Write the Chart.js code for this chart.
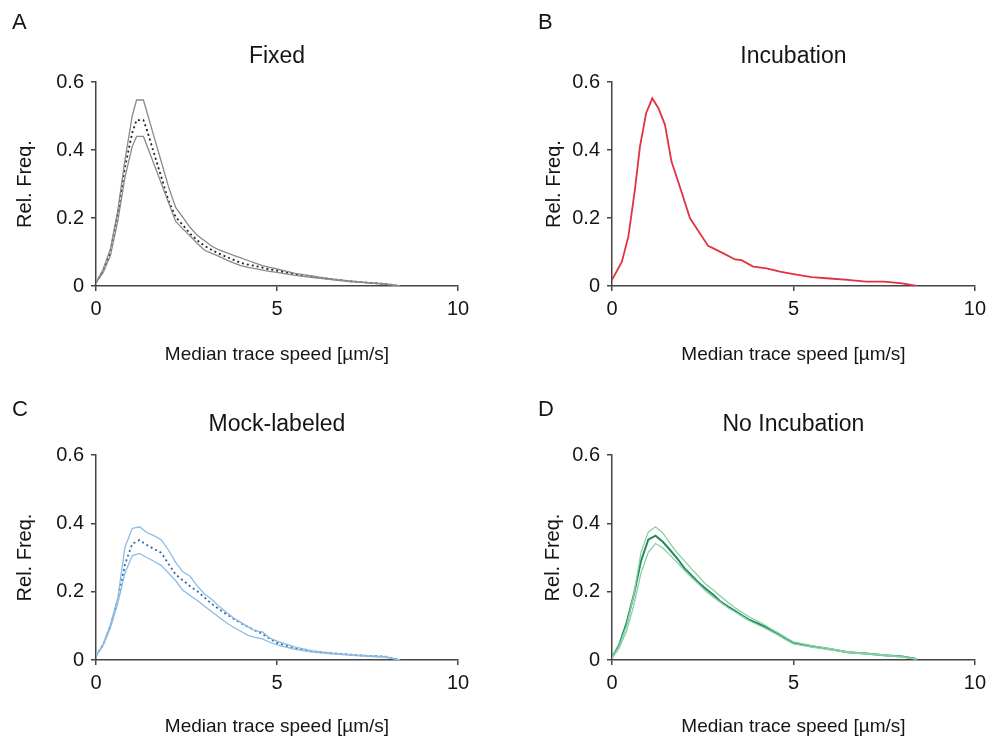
<!DOCTYPE html>
<html>
<head>
<meta charset="utf-8">
<script src="https://cdn.jsdelivr.net/npm/chart.js"></script>
<style>
  body { margin: 0; background: #fff; }
  canvas { position: absolute; }
</style>
</head>
<body>
<canvas id="panelA" width="496" height="371" style="left:0;top:0"></canvas>
<canvas id="panelB" width="496" height="371" style="left:496px;top:0"></canvas>
<canvas id="panelC" width="496" height="371" style="left:0;top:371px"></canvas>
<canvas id="panelD" width="496" height="371" style="left:496px;top:371px"></canvas>
<script>
// shared speed grid (µm/s) for C and D
const speed = [0, 0.2, 0.4, 0.6, 0.8, 1.0, 1.2, 1.4, 1.6, 1.8, 2.0, 2.2, 2.4, 2.6, 2.8, 3.0, 3.2, 3.4, 3.6, 3.8,
  4.0, 4.2, 4.4, 4.6, 4.8, 5.0, 5.5, 6.0, 6.5, 7.0, 7.5, 8.0, 8.4];

// A - Fixed (flat top between ~1.1 and ~1.3)
const speedA     = [0, 0.2, 0.4, 0.6, 0.8, 1.0, 1.12, 1.31, 1.4, 1.6, 1.8, 2.0, 2.2, 2.4, 2.6, 2.8, 3.0, 3.2, 3.4, 3.6, 3.8,
  4.0, 4.2, 4.4, 4.6, 4.8, 5.0, 5.5, 6.0, 6.5, 7.0, 7.5, 8.0, 8.4];
const fixedMean  = [0.01, 0.045, 0.10, 0.21, 0.35, 0.45, 0.488, 0.488, 0.461, 0.391, 0.322, 0.252, 0.203, 0.179, 0.154, 0.134, 0.118, 0.106, 0.095, 0.086, 0.077,
  0.068, 0.063, 0.059, 0.054, 0.049, 0.045, 0.034, 0.027, 0.02, 0.014, 0.01, 0.006, 0];
const fixedUpper = [0.01, 0.05, 0.11, 0.22, 0.37, 0.50, 0.547, 0.547, 0.514, 0.44, 0.367, 0.293, 0.231, 0.202, 0.172, 0.149, 0.133, 0.117, 0.106, 0.098, 0.09,
  0.083, 0.075, 0.067, 0.06, 0.055, 0.05, 0.037, 0.029, 0.021, 0.015, 0.01, 0.006, 0];
const fixedLower = [0.01, 0.04, 0.09, 0.19, 0.32, 0.41, 0.44, 0.44, 0.415, 0.359, 0.303, 0.246, 0.19, 0.168, 0.147, 0.125, 0.105, 0.096, 0.087, 0.077, 0.068,
  0.06, 0.055, 0.051, 0.047, 0.043, 0.04, 0.031, 0.025, 0.019, 0.013, 0.009, 0.005, 0];

// B - Incubation (own x points)
const speedB     = [0, 0.27, 0.45, 0.63, 0.77, 0.94, 1.11, 1.28, 1.46, 1.64, 1.87, 2.15, 2.33, 2.65, 3.07, 3.39, 3.57, 3.89, 4.26, 4.63,
  5.0, 5.5, 6.0, 6.5, 7.0, 7.5, 8.0, 8.4];
const incubation = [0.018, 0.071, 0.145, 0.282, 0.41, 0.508, 0.552, 0.523, 0.474, 0.366, 0.292, 0.199, 0.17, 0.118, 0.096, 0.078, 0.076, 0.057, 0.052, 0.042,
  0.035, 0.026, 0.022, 0.018, 0.013, 0.013, 0.008, 0];

// C - Mock-labeled
const mockMean  = [0.012, 0.045, 0.10, 0.175, 0.28, 0.34, 0.351, 0.337, 0.325, 0.314, 0.282, 0.25, 0.233, 0.216, 0.201, 0.183, 0.164, 0.149, 0.134, 0.121,
  0.108, 0.097, 0.086, 0.076, 0.062, 0.05, 0.034, 0.025, 0.02, 0.016, 0.012, 0.01, 0];
const mockUpper = [0.012, 0.047, 0.105, 0.18, 0.33, 0.385, 0.39, 0.373, 0.364, 0.352, 0.322, 0.286, 0.258, 0.245, 0.216, 0.193, 0.177, 0.157, 0.14, 0.123,
  0.11, 0.097, 0.085, 0.082, 0.064, 0.055, 0.038, 0.027, 0.02, 0.016, 0.013, 0.01, 0];
const mockLower = [0.012, 0.043, 0.095, 0.165, 0.255, 0.305, 0.312, 0.3, 0.289, 0.277, 0.255, 0.232, 0.204, 0.189, 0.174, 0.157, 0.141, 0.125, 0.109, 0.096,
  0.084, 0.072, 0.066, 0.062, 0.052, 0.044, 0.031, 0.023, 0.018, 0.014, 0.011, 0.008, 0];

// D - No Incubation
const noIncMean  = [0.007, 0.045, 0.108, 0.19, 0.29, 0.352, 0.364, 0.346, 0.322, 0.297, 0.268, 0.247, 0.225, 0.207, 0.19, 0.17, 0.156, 0.143, 0.129, 0.117,
  0.108, 0.098, 0.087, 0.076, 0.062, 0.05, 0.04, 0.032, 0.023, 0.019, 0.014, 0.01, 0.003];
const noIncUpper = [0.007, 0.042, 0.10, 0.19, 0.315, 0.375, 0.39, 0.372, 0.341, 0.313, 0.29, 0.266, 0.243, 0.22, 0.204, 0.186, 0.168, 0.152, 0.138, 0.125,
  0.115, 0.103, 0.09, 0.078, 0.065, 0.053, 0.042, 0.033, 0.024, 0.019, 0.015, 0.01, 0.003];
const noIncLower = [0.005, 0.035, 0.085, 0.16, 0.255, 0.315, 0.341, 0.328, 0.307, 0.285, 0.262, 0.241, 0.221, 0.2, 0.184, 0.168, 0.153, 0.14, 0.127, 0.114,
  0.104, 0.094, 0.083, 0.071, 0.059, 0.047, 0.038, 0.03, 0.022, 0.018, 0.013, 0.009, 0.002];

const yTickValues = [0, 0.2, 0.4, 0.6];
const xTickValues = [0, 5, 10];
const xLabel = 'Median trace speed [µm/s]';
const yLabel = 'Rel. Freq.';

const textColor = '#151515';
const axisColor = '#444';
Chart.defaults.font.family = '"Liberation Sans", Arial, sans-serif';

function pts(xs, ys) {
  return ys.map((y, i) => ({ x: xs[i], y: y }));
}

function line(xs, ys, color, width, dash) {
  return {
    data: pts(xs, ys),
    borderColor: color,
    borderWidth: width,
    borderDash: dash || [],
    pointRadius: 0,
    tension: 0,
    fill: false
  };
}

// panel letter + title, drawn on the canvas
const panelText = {
  id: 'panelText',
  afterDraw(chart, args, o) {
    const ctx = chart.ctx;
    const a = chart.chartArea;
    ctx.save();
    ctx.fillStyle = textColor;
    ctx.textBaseline = 'alphabetic';
    ctx.font = '22px "Liberation Sans", Arial, sans-serif';
    ctx.textAlign = 'left';
    ctx.fillText(o.letter, o.letterX, o.letterY);
    ctx.font = '23px "Liberation Sans", Arial, sans-serif';
    ctx.textAlign = 'center';
    ctx.fillText(o.title, (a.left + a.right) / 2, o.titleY);
    ctx.restore();
  }
};

function makePanel(p) {
  new Chart(document.getElementById(p.id), {
    type: 'line',
    data: { datasets: p.datasets },
    options: {
      responsive: false,
      animation: false,
      layout: { padding: { left: 0, top: p.top, right: p.right, bottom: 0 } },
      plugins: {
        legend: { display: false },
        tooltip: { enabled: false },
        panelText: { letter: p.letter, letterX: p.letterX, letterY: p.letterY, title: p.title, titleY: p.titleY }
      },
      scales: {
        x: {
          type: 'linear', min: 0, max: 10,
          afterFit(s) { s.height = p.xHeight; },
          afterBuildTicks(s) { s.ticks = xTickValues.map(v => ({ value: v })); },
          grid: { display: true, drawOnChartArea: false, drawTicks: true, tickLength: 5, color: axisColor, lineWidth: 1.5 },
          border: { display: true, color: axisColor, width: 1.5 },
          ticks: { padding: 6, color: textColor, font: { size: 20 }, maxRotation: 0 },
          title: { display: true, text: xLabel, color: textColor, font: { size: 19 }, padding: { top: 0, bottom: p.xTitlePad } }
        },
        y: {
          type: 'linear', min: 0, max: 0.6,
          afterFit(s) { s.width = p.yWidth; },
          afterBuildTicks(s) { s.ticks = yTickValues.map(v => ({ value: v })); },
          grid: { display: true, drawOnChartArea: false, drawTicks: true, tickLength: 5, color: axisColor, lineWidth: 1.5 },
          border: { display: true, color: axisColor, width: 1.5 },
          ticks: { padding: 7, color: textColor, font: { size: 20 } },
          title: { display: true, text: yLabel, color: textColor, font: { size: 20 }, padding: { top: p.yTitlePad, bottom: 0 } }
        }
      }
    },
    plugins: [panelText]
  });
}

makePanel({
  id: 'panelA', letter: 'A', title: 'Fixed',
  letterX: 12, letterY: 29, titleY: 63,
  top: 82, right: 38, yWidth: 96, xHeight: 85, yTitlePad: 13, xTitlePad: 5,
  datasets: [
    line(speedA, fixedUpper, '#8a8a8a', 1.3),
    line(speedA, fixedLower, '#8a8a8a', 1.3),
    line(speedA, fixedMean, '#222', 1.8, [2, 3])
  ]
});

makePanel({
  id: 'panelB', letter: 'B', title: 'Incubation',
  letterX: 42, letterY: 29, titleY: 63,
  top: 82, right: 17, yWidth: 116, xHeight: 85, yTitlePad: 46, xTitlePad: 5,
  datasets: [
    line(speedB, incubation, '#e2323f', 1.8)
  ]
});

makePanel({
  id: 'panelC', letter: 'C', title: 'Mock-labeled',
  letterX: 12, letterY: 45, titleY: 60,
  top: 84, right: 38, yWidth: 96, xHeight: 82, yTitlePad: 13, xTitlePad: 4,
  datasets: [
    line(speed, mockUpper, '#8dbbe3', 1.3),
    line(speed, mockLower, '#8dbbe3', 1.3),
    line(speed, mockMean, '#2c68aa', 1.8, [2, 3])
  ]
});

makePanel({
  id: 'panelD', letter: 'D', title: 'No Incubation',
  letterX: 42, letterY: 45, titleY: 60,
  top: 84, right: 17, yWidth: 116, xHeight: 82, yTitlePad: 45, xTitlePad: 4,
  datasets: [
    line(speed, noIncUpper, '#86d0a6', 1.3),
    line(speed, noIncLower, '#86d0a6', 1.3),
    line(speed, noIncMean, '#22895a', 2)
  ]
});
</script>
</body>
</html>
